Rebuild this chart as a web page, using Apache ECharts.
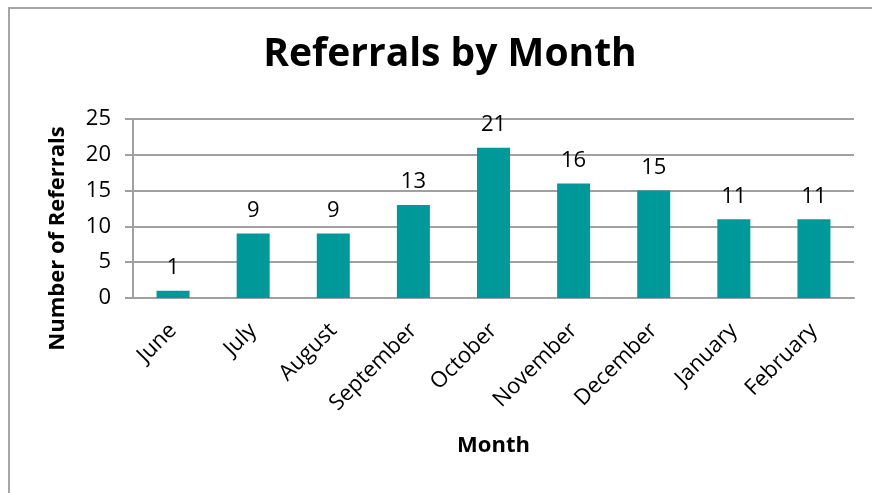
<!DOCTYPE html>
<html>
<head>
<meta charset="utf-8">
<script src="https://cdn.jsdelivr.net/npm/echarts@6/dist/echarts.min.js"></script>
<style>
  html, body { margin: 0; padding: 0; background: #fff; overflow: hidden; }
  #frame {
    position: absolute; left: 8px; top: 7px; width: 900px; height: 520px;
    border-left: 2px solid #a6a6a6; border-top: 2px solid #a6a6a6;
  }
  #chart { position: absolute; left: 0; top: 0; width: 872px; height: 493px; }
</style>
</head>
<body>
<div id="frame"></div>
<div id="chart"></div>
<script>
// 月份和转介数量
const months = ['June', 'July', 'August', 'September', 'October', 'November', 'December', 'January', 'February']
const referrals = [1, 9, 9, 13, 21, 16, 15, 11, 11]
const yTicks = { min: 0, max: 25, interval: 5 }

const chart = echarts.init(document.getElementById('chart'))
const font = '"Open Sans", sans-serif'

const option = {
  animation: false,
  title: {
    text: 'Referrals by Month',
    left: 445,
    textAlign: 'center',
    top: 30,
    textStyle: { fontFamily: font, fontSize: 39, fontWeight: 'bold', color: '#000' }
  },
  grid: { left: 133, right: 18, top: 119, bottom: 195 },
  xAxis: {
    type: 'category',
    data: months,
    name: 'Month',
    nameLocation: 'middle',
    nameGap: 137,
    nameTextStyle: { fontFamily: font, fontSize: 22, fontWeight: 'bold', color: '#000' },
    axisLine: { lineStyle: { color: '#a0a0a0', width: 2 } },
    axisTick: { length: 7, lineStyle: { color: '#a0a0a0', width: 2 } },
    axisLabel: { rotate: 45, margin: 29, fontFamily: font, fontSize: 22, color: '#000' }
  },
  yAxis: {
    type: 'value',
    min: yTicks.min,
    max: yTicks.max,
    interval: yTicks.interval,
    name: 'Number of Referrals',
    nameLocation: 'middle',
    nameGap: 64,
    nameTextStyle: {
      fontFamily: font, fontSize: 22, fontWeight: 'bold', color: '#000',
      padding: [0, 60, 0, 0]
    },
    axisLine: { show: true, lineStyle: { color: '#a0a0a0', width: 2 } },
    axisTick: { show: true, length: 8, lineStyle: { color: '#a0a0a0', width: 2 } },
    splitLine: { lineStyle: { color: '#a0a0a0', width: 2 } },
    axisLabel: { margin: 22, fontFamily: font, fontSize: 22, color: '#000' }
  },
  series: [
    {
      type: 'bar',
      data: referrals,
      barWidth: 33,
      itemStyle: { color: '#009999' },
      label: {
        show: true,
        position: 'top',
        distance: 12,
        fontFamily: font,
        fontSize: 22,
        color: '#000'
      }
    }
  ]
}

chart.setOption(option)
</script>
</body>
</html>
